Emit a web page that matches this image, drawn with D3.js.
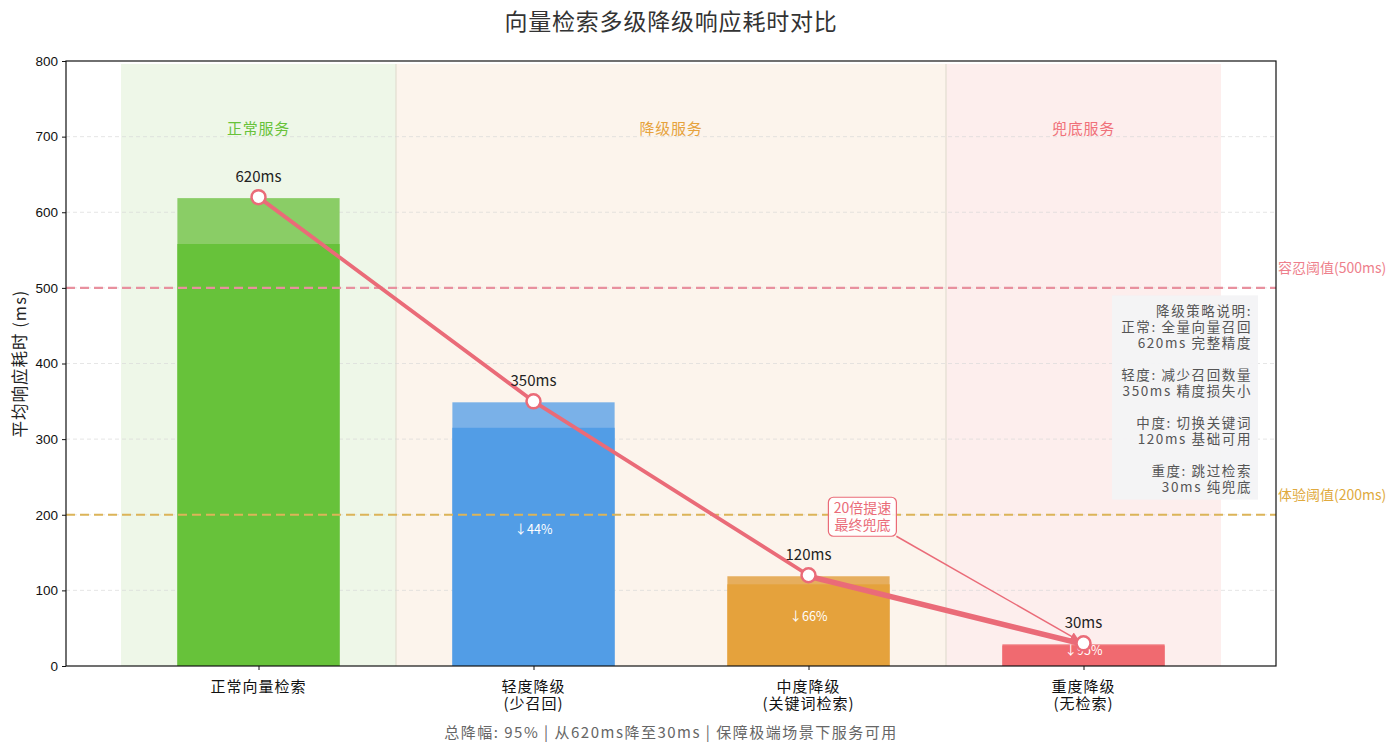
<!DOCTYPE html>
<html><head><meta charset="utf-8">
<script src="https://cdn.jsdelivr.net/npm/d3@7"></script>
<style>
body{margin:0;background:#fff;}
svg{display:block;}
</style></head>
<body>
<svg id="chart" width="1400" height="752"></svg>
<script>
// ---- data ----
const categories = ["正常向量检索", "轻度降级\n(少召回)", "中度降级\n(关键词检索)", "重度降级\n(无检索)"];
const latency = [620, 350, 120, 30];
const dropLabels = ["", "↓44%", "↓66%", "↓95%"];
const valueLabels = ["620ms", "350ms", "120ms", "30ms"];
const yTicks = [0, 100, 200, 300, 400, 500, 600, 700, 800];
const zones = [
  {name: "正常服务", from: -0.5, to: 0.5},
  {name: "降级服务", from: 0.5, to: 2.5},
  {name: "兜底服务", from: 2.5, to: 3.5}
];
const thresholds = [
  {value: 500, label: "容忍阈值(500ms)"},
  {value: 200, label: "体验阈值(200ms)"}
];
const noteLines = ["降级策略说明:", "正常: 全量向量召回", "620ms 完整精度", "", "轻度: 减少召回数量", "350ms 精度损失小", "", "中度: 切换关键词", "120ms 基础可用", "", "重度: 跳过检索", "30ms 纯兜底"];
const annotationText = ["20倍提速", "最终兜底"];
const footer = "总降幅: 95% | 从620ms降至30ms | 保障极端场景下服务可用";
const title = "向量检索多级降级响应耗时对比";
const yLabel = "平均响应耗时 (ms)";

// ---- styles ----
const barLight = ["#8acd66", "#7ab1e8", "#e6ae5e", "#f07c80"];
const barDark = ["#67c23a", "#529de6", "#e5a23c", "#f06a70"];
const zoneFill = ["#eef7e8", "#fcf4ec", "#fdeeed"];
const zoneText = ["#67c23a", "#e6a23c", "#f07079"];
const threshColor = ["#e8909e", "#dcb458"];
const threshText = ["#ee7f8c", "#e0aa3e"];
const lineColor = "#ea6b78";
const CJK = "'Noto Sans CJK SC', 'DejaVu Sans', sans-serif";
const NUM = "'Liberation Sans', 'DejaVu Sans', sans-serif";

const svg = d3.select("#chart");
const M = {left: 66, right: 1276, top: 61, bottom: 666};
const x = d3.scaleLinear().domain([-0.7, 3.7]).range([M.left, M.right]);
const y = d3.scaleLinear().domain([0, 800]).range([M.bottom, M.top]);

// title
svg.append("text").attr("x", 671).attr("y", 30).attr("text-anchor", "middle")
  .attr("font-family", CJK).attr("font-size", 23).attr("letter-spacing", 0.8).attr("fill", "#333").text(title);

// zones
const zg = svg.append("g");
zones.forEach((z, i) => {
  zg.append("rect").attr("x", x(z.from)).attr("y", y(796)).attr("width", x(z.to) - x(z.from))
    .attr("height", y(0) - y(796)).attr("fill", zoneFill[i]);
  zg.append("text").attr("x", x((z.from + z.to) / 2)).attr("y", y(710) + 5).attr("text-anchor", "middle")
    .attr("font-family", CJK).attr("font-size", 15).attr("letter-spacing", 0.8).attr("fill", zoneText[i]).text(z.name);
});
[0.5, 2.5].forEach(v => {
  zg.append("line").attr("x1", x(v)).attr("x2", x(v)).attr("y1", y(796)).attr("y2", y(0))
    .attr("stroke", "#e2ddd0").attr("stroke-width", 1.2);
});

// grid
svg.append("g").selectAll("line").data(yTicks.filter(t => t > 0 && t < 800)).join("line")
  .attr("x1", M.left).attr("x2", M.right).attr("y1", d => y(d)).attr("y2", d => y(d))
  .attr("stroke", "#d8d8d8").attr("stroke-width", 0.8).attr("stroke-dasharray", "4,3").attr("opacity", 0.8);

// bars
const bw = 0.59;
const bg = svg.append("g");
latency.forEach((v, i) => {
  bg.append("rect").attr("x", x(i - bw / 2)).attr("width", x(i + bw / 2) - x(i - bw / 2))
    .attr("y", y(v) + 1).attr("height", y(0) - y(v) - 1).attr("fill", barLight[i]);
  bg.append("rect").attr("x", x(i - bw / 2)).attr("width", x(i + bw / 2) - x(i - bw / 2))
    .attr("y", y(v * 0.9)).attr("height", y(0) - y(v * 0.9)).attr("fill", barDark[i]);
  if (dropLabels[i]) {
    bg.append("text").attr("x", x(i)).attr("y", y(v / 2) - 4).attr("dy", "0.35em").attr("text-anchor", "middle")
      .attr("font-family", CJK).attr("font-size", 12.5).attr("fill", "#fff").text(dropLabels[i]);
  }
});

// thresholds
thresholds.forEach((t, i) => {
  svg.append("line").attr("x1", M.left).attr("x2", M.right).attr("y1", y(t.value)).attr("y2", y(t.value))
    .attr("stroke", threshColor[i]).attr("stroke-width", 2.2).attr("stroke-dasharray", "9,5");
  svg.append("text").attr("x", M.right + 2).attr("y", y(t.value) - 15).attr("font-family", CJK)
    .attr("font-size", 14).attr("fill", threshText[i]).text(t.label);
});

// note box (one text block)
const ng = svg.append("g");
ng.append("rect").attr("x", 1112).attr("y", y(490)).attr("width", 146).attr("height", y(220) - y(490))
  .attr("fill", "#f3f3f5").attr("opacity", 0.95);
const noteText = ng.append("text").attr("text-anchor", "end").attr("font-family", CJK)
  .attr("font-size", 13.5).attr("letter-spacing", 1.6).attr("fill", "#555");
noteLines.forEach((l, i) => {
  noteText.append("tspan").attr("x", 1252).attr("y", 316 + i * 16).text(l);
});

// line
const pts = latency.map((v, i) => [x(i), y(v)]);
svg.append("path").attr("d", d3.line()(pts)).attr("fill", "none").attr("stroke", lineColor)
  .attr("stroke-width", 3.8).attr("stroke-linejoin", "round");
svg.append("path").attr("d", d3.line()(pts.slice(2).map(p => [p[0], p[1] + 2.5])))
  .attr("fill", "none").attr("stroke", lineColor).attr("stroke-width", 2.5);

// annotation
const ax = 2.196, ay = 198;
svg.append("defs").append("marker").attr("id", "arr").attr("viewBox", "0 0 10 10").attr("refX", 9).attr("refY", 5)
  .attr("markerWidth", 6).attr("markerHeight", 6).attr("orient", "auto")
  .append("path").attr("d", "M0,0L10,5L0,10z").attr("fill", lineColor);
svg.append("line").attr("x1", x(ax) + 34).attr("y1", y(ay) + 20).attr("x2", x(3) - 5).attr("y2", y(30) - 3)
  .attr("stroke", lineColor).attr("stroke-width", 1.5).attr("marker-end", "url(#arr)");
svg.append("rect").attr("x", x(ax) - 34).attr("y", y(ay) - 19).attr("width", 68).attr("height", 39).attr("rx", 5)
  .attr("fill", "#fff").attr("fill-opacity", 0.9).attr("stroke", lineColor).attr("stroke-width", 1.2);
const annText = svg.append("text").attr("text-anchor", "middle").attr("font-family", CJK)
  .attr("font-size", 14).attr("fill", lineColor);
annotationText.forEach((t, i) => {
  annText.append("tspan").attr("x", x(ax)).attr("y", y(ay) - 3 + i * 17).text(t);
});

// markers + value labels
latency.forEach((v, i) => {
  svg.append("circle").attr("cx", x(i)).attr("cy", y(v)).attr("r", 7).attr("fill", "#fff")
    .attr("stroke", lineColor).attr("stroke-width", 2.5);
  svg.append("text").attr("x", x(i)).attr("y", y(v) - 15).attr("text-anchor", "middle")
    .attr("font-family", CJK).attr("font-size", 15).attr("fill", "#222").text(valueLabels[i]);
});

// axes
const yAxis = svg.append("g").attr("transform", `translate(${M.left},0)`)
  .call(d3.axisLeft(y).tickValues(yTicks).tickSize(4).tickPadding(4));
yAxis.select(".domain").remove();
yAxis.selectAll("text").attr("font-family", NUM).attr("font-size", 13.5).attr("fill", "#111");
yAxis.selectAll("line").attr("stroke", "#111");

const xAxis = svg.append("g").attr("transform", `translate(0,${M.bottom})`)
  .call(d3.axisBottom(x).tickValues([0, 1, 2, 3]).tickSize(4).tickFormat(""));
xAxis.select(".domain").remove();
xAxis.selectAll("line").attr("stroke", "#111");
categories.forEach((c, i) => {
  const t = svg.append("text").attr("text-anchor", "middle").attr("font-family", CJK)
    .attr("font-size", 15).attr("letter-spacing", 1).attr("fill", "#111");
  c.split("\n").forEach((l, j) => {
    t.append("tspan").attr("x", x(i)).attr("y", M.bottom + 26 + j * 17).text(l);
  });
});

// frame
svg.append("rect").attr("x", M.left).attr("y", M.top).attr("width", M.right - M.left).attr("height", M.bottom - M.top)
  .attr("fill", "none").attr("stroke", "#111").attr("stroke-width", 1.2);

// y label
svg.append("text").attr("transform", `translate(26,${(M.top + M.bottom) / 2}) rotate(-90)`).attr("text-anchor", "middle")
  .attr("font-family", CJK).attr("font-size", 16.5).attr("letter-spacing", 1).attr("fill", "#222").text(yLabel);

// footer
svg.append("text").attr("x", 671).attr("y", 738).attr("text-anchor", "middle")
  .attr("font-family", CJK).attr("font-size", 15).attr("letter-spacing", 1.5).attr("fill", "#666").text(footer);
</script>
</body></html>
